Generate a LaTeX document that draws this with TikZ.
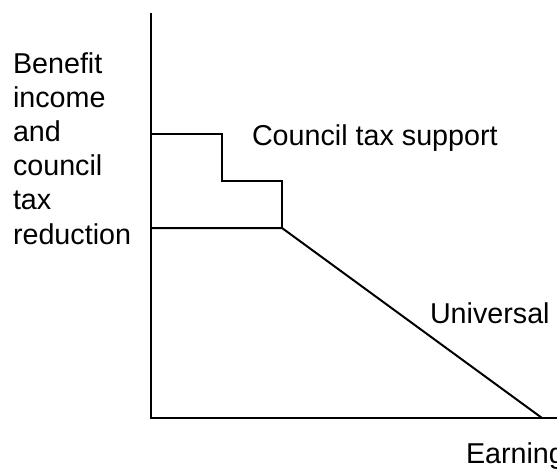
\documentclass[tikz,border=0pt]{standalone}
\usepackage{fontspec}
\setmainfont{Liberation Sans}
\begin{document}
\begin{tikzpicture}[x=1pt,y=-1pt,font=\fontsize{28.7}{34.2}\selectfont,
  lbl/.style={anchor=base west,inner sep=0pt}]
\pgfsetlinewidth{2pt}
\useasboundingbox (0,0) rectangle (557,471);
\clip (0,0) rectangle (557,471);
\coordinate (top) at (151,13);
\coordinate (origin) at (151,418);
\coordinate (xend) at (570,418);
\coordinate (cut) at (542,418);
% axes
\draw (top) -- (origin) -- (xend);
% council tax support steps
\draw (151,134) -- (222,134) -- (222,181) -- (282,181) -- (282,228);
% universal credit taper
\draw (151,228) -- (282,228) -- (cut);
\node[lbl,align=left] (ylabel) at (12,244) {Benefit\\income\\and\\council\\tax\\reduction};
\node[lbl] (cts) at (251,145) {Council tax support};
\node[lbl] (uc) at (429,323) {Universal};
\node[lbl] (xlabel) at (465,463) {Earnings};
\end{tikzpicture}
\end{document}
